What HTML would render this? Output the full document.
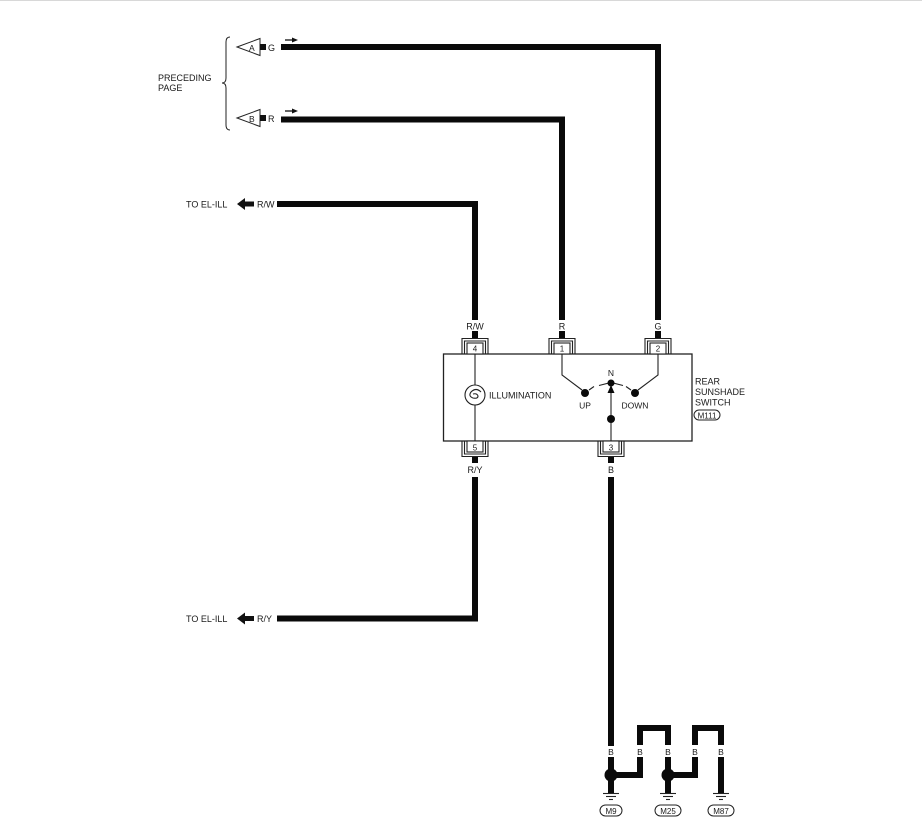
<!DOCTYPE html>
<html>
<head>
<meta charset="utf-8">
<style>
html,body{margin:0;padding:0;background:#fff;}
svg{display:block;}
text{font-family:"Liberation Sans",Arial,sans-serif;fill:#1a1a1a;}
</style>
</head>
<body>
<svg width="922" height="819" viewBox="0 0 922 819" xmlns="http://www.w3.org/2000/svg">
<rect x="0" y="0" width="922" height="819" fill="#fff"/>
<line x1="0" y1="0.5" x2="922" y2="0.5" stroke="#d8d8d8" stroke-width="1"/>

<!-- Brace & preceding page -->
<path d="M230 37 Q226 37 226 42 L226 78 Q226 83 222 83 Q226 83 226 88 L226 125 Q226 130 230 130" fill="none" stroke="#222" stroke-width="1"/>
<text x="158" y="81" font-size="9">PRECEDING</text>
<text x="158" y="91" font-size="9">PAGE</text>

<!-- A connector -->
<polygon points="237,47 260,38.5 260,55.5" fill="#fff" stroke="#222" stroke-width="1"/>
<text x="249" y="51" font-size="8.5">A</text>
<rect x="260" y="44" width="6" height="6" fill="#111"/>
<text x="268" y="51" font-size="9">G</text>
<line x1="285" y1="40" x2="293" y2="40" stroke="#111" stroke-width="1.3"/>
<polygon points="298,40 292,37.5 292,42.5" fill="#111"/>
<!-- B connector -->
<polygon points="237,118 260,109.5 260,126.5" fill="#fff" stroke="#222" stroke-width="1"/>
<text x="249" y="122" font-size="8.5">B</text>
<rect x="260" y="115" width="6" height="6" fill="#111"/>
<text x="268" y="122" font-size="9">R</text>
<line x1="285" y1="111" x2="293" y2="111" stroke="#111" stroke-width="1.3"/>
<polygon points="298,111 292,108.5 292,113.5" fill="#111"/>

<!-- Wires top -->
<g fill="none" stroke="#0a0a0a" stroke-width="6" stroke-linejoin="miter">
  <polyline points="281,47 658,47 658,320"/>
  <polyline points="281,119.5 562,119.5 562,320"/>
  <polyline points="277,204 475,204 475,320"/>
  <polyline points="475,477 475,618.5 277,618.5"/>
  <polyline points="611,477 611,746"/>
</g>

<!-- TO EL-ILL arrows -->
<text x="186" y="207.5" font-size="9">TO EL-ILL</text>
<polygon points="237,204 245,198 245,201.5 254,201.5 254,206.5 245,206.5 245,210" fill="#111"/>
<text x="257" y="207.5" font-size="9">R/W</text>
<text x="186" y="622" font-size="9">TO EL-ILL</text>
<polygon points="237,618.5 245,612.5 245,616 254,616 254,621 245,621 245,624.5" fill="#111"/>
<text x="257" y="622" font-size="9">R/Y</text>

<!-- Wire labels near connectors -->
<text x="475" y="329.5" font-size="9" text-anchor="middle">R/W</text>
<text x="562" y="329.5" font-size="9" text-anchor="middle">R</text>
<text x="658" y="329.5" font-size="9" text-anchor="middle">G</text>
<text x="475" y="473" font-size="9" text-anchor="middle">R/Y</text>
<text x="611" y="473" font-size="9" text-anchor="middle">B</text>
<g fill="#0a0a0a">
  <rect x="472" y="331" width="6" height="7"/>
  <rect x="559" y="331" width="6" height="7"/>
  <rect x="655" y="331" width="6" height="7"/>
  <rect x="472" y="457" width="6" height="6"/>
  <rect x="608" y="457" width="6" height="6"/>
</g>

<!-- Main box -->
<rect x="443.5" y="354" width="248.5" height="87" fill="none" stroke="#222" stroke-width="1.3"/>

<!-- Top connectors -->
<g fill="none" stroke="#222" stroke-width="1.1">
  <path d="M462 354 V338.5 H488 V354"/>
  <path d="M464.5 354 V341 H485.5 V354"/>
  <rect x="467" y="343" width="16" height="11" fill="#fff"/>
  <path d="M549 354 V338.5 H575 V354"/>
  <path d="M551.5 354 V341 H572.5 V354"/>
  <rect x="554" y="343" width="16" height="11" fill="#fff"/>
  <path d="M645 354 V338.5 H671 V354"/>
  <path d="M647.5 354 V341 H668.5 V354"/>
  <rect x="650" y="343" width="16" height="11" fill="#fff"/>
  <!-- Bottom connectors -->
  <path d="M462 441 V456.5 H488 V441"/>
  <path d="M464.5 441 V454 H485.5 V441"/>
  <rect x="467" y="441" width="16" height="11" fill="#fff"/>
  <path d="M598 441 V456.5 H624 V441"/>
  <path d="M600.5 441 V454 H621.5 V441"/>
  <rect x="603" y="441" width="16" height="11" fill="#fff"/>
</g>
<text x="475" y="351.5" font-size="8" text-anchor="middle">4</text>
<text x="562" y="351.5" font-size="8" text-anchor="middle">1</text>
<text x="658" y="351.5" font-size="8" text-anchor="middle">2</text>
<text x="475" y="450.5" font-size="8" text-anchor="middle">5</text>
<text x="611" y="450.5" font-size="8" text-anchor="middle">3</text>

<!-- Illumination -->
<g fill="none" stroke="#222" stroke-width="1.1">
  <line x1="475" y1="354" x2="475" y2="385"/>
  <line x1="475" y1="405" x2="475" y2="441"/>
  <circle cx="475" cy="395" r="10"/>
  <path d="M481 392 Q476 387 471 392 Q468 396 473 398 Q478 399 478 396 Q477 393 473 394"/>
</g>
<text x="489" y="398.5" font-size="9">ILLUMINATION</text>

<!-- Switch -->
<g fill="none" stroke="#222" stroke-width="1.1">
  <polyline points="562,354 562,375 582,390"/>
  <polyline points="658,354 658,375 638,390"/>
  <line x1="589" y1="390" x2="594" y2="386.5"/>
  <line x1="631" y1="390" x2="626" y2="386.5"/>
  <polyline points="599,385.5 611,382.5 623,385.5"/>
  <line x1="611" y1="383" x2="611" y2="441"/>
</g>
<g fill="#0a0a0a">
  <circle cx="585" cy="393" r="4"/>
  <circle cx="635" cy="393" r="4"/>
  <circle cx="611" cy="383" r="3.5"/>
  <polygon points="611,385 607.5,393 614.5,393"/>
  <circle cx="611" cy="419" r="4"/>
</g>
<text x="611" y="376" font-size="8.5" text-anchor="middle">N</text>
<text x="585" y="408.5" font-size="8.5" text-anchor="middle">UP</text>
<text x="635" y="408.5" font-size="8.5" text-anchor="middle">DOWN</text>

<!-- Right labels -->
<text x="695" y="384.5" font-size="9">REAR</text>
<text x="695" y="395" font-size="9">SUNSHADE</text>
<text x="695" y="405.5" font-size="9">SWITCH</text>
<rect x="694" y="410" width="26" height="10" rx="5" ry="5" fill="none" stroke="#222" stroke-width="1"/>
<text x="707" y="418.3" font-size="8" text-anchor="middle">M111</text>

<!-- Ground section -->
<g fill="none" stroke="#0a0a0a" stroke-width="6" stroke-linejoin="miter">
  <line x1="611" y1="757" x2="611" y2="793"/>
  <polyline points="611,775 640,775 640,757"/>
  <polyline points="640,745 640,728 668,728 668,745"/>
  <line x1="668" y1="757" x2="668" y2="793"/>
  <polyline points="668,775 695,775 695,757"/>
  <polyline points="695,745 695,728 721,728 721,745"/>
  <line x1="721" y1="757" x2="721" y2="793"/>
</g>
<g fill="#0a0a0a">
  <circle cx="611" cy="775" r="6.5"/>
  <circle cx="668" cy="775" r="6.5"/>
</g>
<g font-size="8.5" text-anchor="middle">
  <text x="611" y="755">B</text>
  <text x="640" y="755">B</text>
  <text x="668" y="755">B</text>
  <text x="695" y="755">B</text>
  <text x="721" y="755">B</text>
</g>
<g stroke="#222" stroke-width="1.1">
  <line x1="603" y1="793.5" x2="619" y2="793.5"/>
  <line x1="606" y1="796.5" x2="616" y2="796.5"/>
  <line x1="609" y1="799.5" x2="613" y2="799.5"/>
  <line x1="660" y1="793.5" x2="676" y2="793.5"/>
  <line x1="663" y1="796.5" x2="673" y2="796.5"/>
  <line x1="666" y1="799.5" x2="670" y2="799.5"/>
  <line x1="713" y1="793.5" x2="729" y2="793.5"/>
  <line x1="716" y1="796.5" x2="726" y2="796.5"/>
  <line x1="719" y1="799.5" x2="723" y2="799.5"/>
</g>
<g fill="none" stroke="#222" stroke-width="1">
  <rect x="600" y="805" width="22" height="11" rx="5.5" ry="5.5"/>
  <rect x="655" y="805" width="26" height="11" rx="5.5" ry="5.5"/>
  <rect x="708" y="805" width="26" height="11" rx="5.5" ry="5.5"/>
</g>
<g font-size="8" text-anchor="middle">
  <text x="611" y="813.8">M9</text>
  <text x="668" y="813.8">M25</text>
  <text x="721" y="813.8">M87</text>
</g>
</svg>
</body>
</html>
